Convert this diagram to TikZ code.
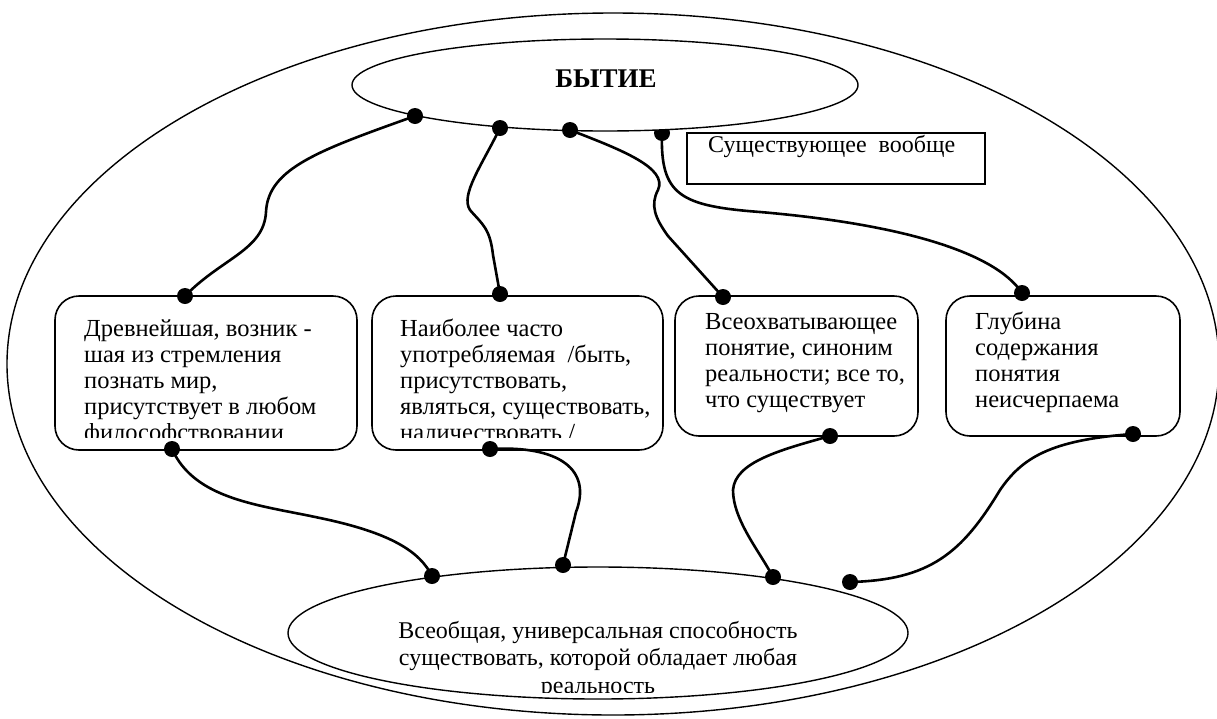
\documentclass[tikz,border=0pt]{standalone}
\usepackage{fontspec}
\setmainfont{Liberation Serif}
\usetikzlibrary{shapes.geometric}
\newcommand{\firstline}{\rule{0pt}{20pt}}
\begin{document}
\begin{tikzpicture}[x=1pt,y=-1pt,
  ring/.style={draw,line width=1.4pt},
  rbox/.style={draw,line width=1.6pt,rounded corners=24pt,inner sep=0pt},
  conn/.style={line width=2.6pt},
  dot/.style={circle,fill=black,inner sep=0pt,minimum size=16pt},
  boxtext/.style={align=left,inner sep=0pt,font=\fontsize{24.5}{26}\selectfont},
]
\useasboundingbox (0,0) rectangle (1217,718);
% outer ellipse
\draw[ring] (613,364) ellipse [x radius=606, y radius=351];
% boxes
\node[rbox,minimum width=302pt,minimum height=154pt] (b1) at (206,373) {};
\node[rbox,minimum width=291pt,minimum height=154pt] (b2) at (517.5,373) {};
\node[rbox,minimum width=243pt,minimum height=140pt] (b3) at (796.5,366) {};
\node[rbox,minimum width=234pt,minimum height=140pt] (b4) at (1063,366) {};
% dots positions
\coordinate (a1) at (415,116);
\coordinate (a2) at (500,128);
\coordinate (a3) at (570,130);
\coordinate (a4) at (662,133);
\coordinate (p1) at (185,296);
\coordinate (p2) at (500,294);
\coordinate (p3) at (723,297);
\coordinate (p4) at (1022,293);
\coordinate (q1) at (172,449);
\coordinate (q2) at (490,449);
\coordinate (q3) at (830,436);
\coordinate (q4) at (1133,434);
\coordinate (d1) at (432,576);
\coordinate (d2) at (563,565);
\coordinate (d3) at (773,577);
\coordinate (d4) at (850,582);
% connectors
\draw[conn] (a1) .. controls (320,150) and (268,168) .. (266,212)
  .. controls (264,250) and (222,258) .. (p1);
\draw[conn] (a2) .. controls (482,165) and (460,195) .. (470,210)
  .. controls (482,224) and (490,228) .. (493,255) -- (p2);
\draw[conn] (a3) .. controls (622,150) and (668,168) .. (658,190)
  .. controls (650,205) and (655,218) .. (668,236) -- (p3);
\draw[conn] (a4) .. controls (660,195) and (680,206) .. (760,212)
  .. controls (900,224) and (995,252) .. (p4);
\draw[conn] (q1) .. controls (195,500) and (260,505) .. (320,518)
  .. controls (392,533) and (420,552) .. (d1);
\draw[conn] (q2) .. controls (560,445) and (592,470) .. (576,512) -- (d2);
\draw[conn] (q3) .. controls (780,450) and (735,462) .. (733,490)
  .. controls (733,520) and (760,552) .. (d3);
\draw[conn] (q4) .. controls (1050,440) and (1022,458) .. (1000,490)
  .. controls (962,553) and (930,580) .. (d4);
% half dot under top ellipse
\node[dot] at (a4) {};
% top ellipse
\node[draw,line width=1.4pt,ellipse,fill=white,minimum width=506pt,minimum height=92pt,inner sep=0pt] (top) at (605,85) {};
\node[font=\fontsize{27}{30}\selectfont\bfseries] (toptext) at (606,79) {БЫТИЕ};
% bottom ellipse
\node[draw,line width=1.4pt,ellipse,fill=white,minimum width=620pt,minimum height=132pt,inner sep=0pt] (bot) at (598,633) {};
\begin{scope}
\clip (300,560) rectangle (900,692);
\node[align=center,inner sep=0pt,font=\fontsize{24}{27.5}\selectfont,anchor=north] (bottext) at (598,621) {Всеобщая, универсальная способность\\существовать, которой обладает любая\\реальность};
\end{scope}
% dots
\foreach \p in {a1,a2,a3,p1,p2,p3,p4,q1,q2,q3,q4,d1,d2,d3,d4} \node[dot] at (\p) {};
% rectangle
\node[draw,line width=1.4pt,fill=white,minimum width=298pt,minimum height=51pt,inner sep=0pt] (rect) at (836,158.5) {};
\node[anchor=west,inner sep=0pt,font=\fontsize{24}{26}\selectfont] (recttext) at (708,146) {Существующее\ \ вообще};
% texts in boxes
\begin{scope}
\clip (58,300) rectangle (354,437);
\node[boxtext,anchor=north west] (t1) at (84,316) {\firstline Древнейшая, возник -\\шая из стремления\\познать мир,\\присутствует в любом\\философствовании};
\end{scope}
\begin{scope}
\clip (374,300) rectangle (660,437);
\node[boxtext,anchor=north west] (t2) at (400,316) {\firstline Наиболее часто\\употребляемая\ \ /быть,\\присутствовать,\\являться, существовать,\\наличествовать /};
\end{scope}
\node[boxtext,anchor=north west] (t3) at (705,309) {\firstline Всеохватывающее\\понятие, синоним\\реальности; все то,\\что существует};
\node[boxtext,anchor=north west] (t4) at (975,309) {\firstline Глубина\\содержания\\понятия\\неисчерпаема};
\end{tikzpicture}
\end{document}
